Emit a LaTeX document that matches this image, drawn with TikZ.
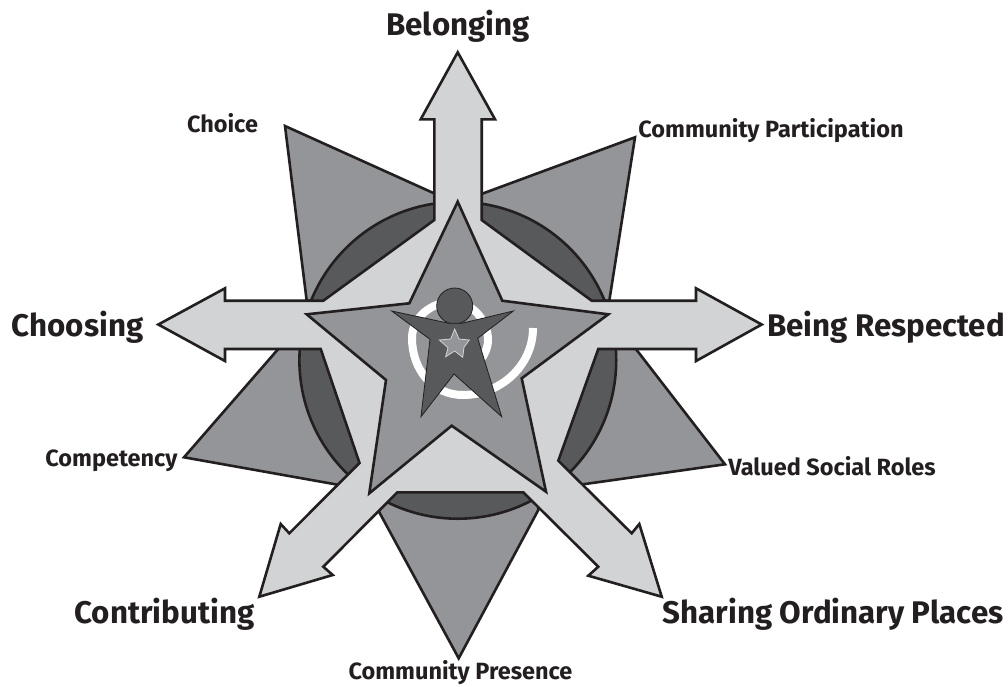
\documentclass[tikz,border=0pt]{standalone}
\usepackage{fontspec}
\setmainfont{Fira Sans}
\definecolor{lightg}{HTML}{D1D3D4}
\definecolor{midg}{HTML}{939598}
\definecolor{darkg}{HTML}{58595B}
\definecolor{ink}{HTML}{231F20}
\tikzset{
  shp/.style={draw=ink,line width=2.6pt,line join=miter,miter limit=10},
  big/.style={font=\fontsize{31.3}{34}\selectfont\bfseries,text=ink,inner sep=0pt,anchor=base},
  small/.style={font=\fontsize{23.5}{26}\selectfont\bfseries,text=ink,inner sep=0pt,anchor=base},
}
\begin{document}
\begin{tikzpicture}[x=1pt,y=-1pt]
\useasboundingbox (0,0) rectangle (1008,686);
% triangles
\draw[shp,fill=midg] (285,126) -- (440,196) -- (440,300) -- (306.7,300.7) -- cycle;
\draw[shp,fill=midg] (635,137.3) -- (476,196) -- (476,300) -- (609.3,300.7) -- cycle;
\draw[shp,fill=midg] (184,457.3) -- (281.7,345) -- (330,345) -- (400,400) -- (345,486) -- cycle;
\draw[shp,fill=midg] (725,464.3) -- (632.8,345) -- (590,345) -- (520,400) -- (578,485) -- cycle;
\draw[shp,fill=midg] (379,511.7) -- (458.7,658.3) -- (538.3,510) -- (538,480) -- (379,480) -- cycle;
% dark circle
\draw[shp,fill=darkg] (457.8,360.3) circle[radius=158.4];
% arrows
\draw[shp,fill=lightg] (457.7,52.3) -- (495,119.3) -- (481.7,119.3) -- (481.7,220) -- (591.7,300.7) -- (696,300.7) -- (696,288.3) -- (761.7,324.5) -- (696,361) -- (696,349) -- (598.3,349) -- (558.3,460.7) -- (631.7,533.3) -- (639.3,524) -- (661.7,596.7) -- (588.3,575.7) -- (598.3,566.7) -- (523.3,492.3) -- (397.3,492.3) -- (323.3,566.7) -- (332.7,575) -- (259.3,596.7) -- (280.7,524) -- (289.3,533.3) -- (359.5,463) -- (320.7,349) -- (225,349) -- (225,361) -- (158.3,324.5) -- (225,288.3) -- (225,300.7) -- (323.3,300.7) -- (434.3,220) -- (434.3,119.3) -- (420.7,119.3) -- cycle;
% large star
\draw[shp,fill=midg] (457.7,201.7) -- (502.3,300.7) -- (608.3,314.3) -- (521.7,378.3) -- (546,491.7) -- (451.7,425.7) -- (369.3,493.3) -- (386,380) -- (306.7,314.3) -- (409.3,303.3) -- cycle;
% white spiral
\draw[white,line width=8pt] (533,328) .. controls (533,366) and (500,395) .. (463,395) .. controls (433,395) and (412,370) .. (412,338) .. controls (412,317) and (432,302) .. (452,302) .. controls (472,302) and (488,320) .. (488,340) .. controls (488,350) and (482,360) .. (475,365);
% person
\draw[draw=ink,line width=0.8pt,fill=darkg] (454.7,306) circle[radius=18];
\draw[draw=ink,line width=0.8pt,fill=darkg,miter limit=10] (391.7,311) -- (449,323.3) -- (461.7,323.3) -- (513.3,311) -- (477.7,338.3) -- (501.7,416.7) -- (454,374) -- (421,416.7) -- (430,339.3) -- cycle;
\draw[draw=lightg,line width=0.8pt,fill=midg] (454.7,329) -- (459,339) -- (469.3,340) -- (464,347.3) -- (462.7,357.3) -- (454.7,351) -- (445.7,356.7) -- (448,347.7) -- (439.3,340) -- (450.7,339) -- cycle;
% labels
\node[big] (belonging) at (458,35) {Belonging};
\node[big] (choosing) at (77.5,336) {Choosing};
\node[big] (respected) at (886,336) {Being Respected};
\node[big] (contributing) at (164.5,623.5) {Contributing};
\node[big] (sharing) at (833,623) {Sharing Ordinary Places};
\node[small] (choice) at (222.5,132.5) {Choice};
\node[small] (participation) at (771,137.5) {Community Participation};
\node[small] (competency) at (111.5,466) {Competency};
\node[small] (roles) at (832,475) {Valued Social Roles};
\node[small] (presence) at (460.5,679.5) {Community Presence};
\end{tikzpicture}
\end{document}
